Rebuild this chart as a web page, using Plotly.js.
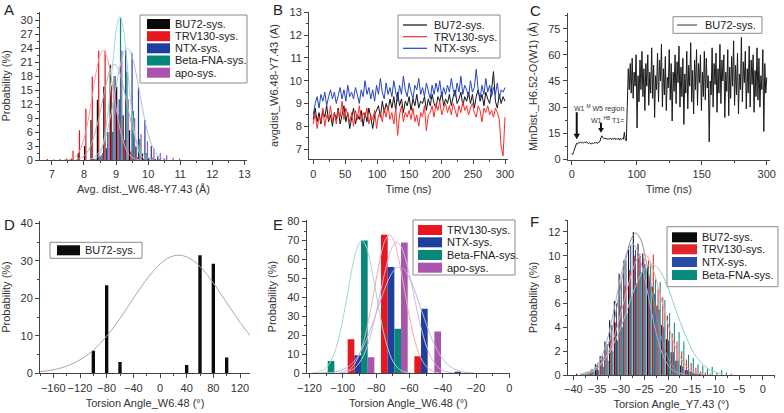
<!DOCTYPE html>
<html><head><meta charset="utf-8">
<script src="https://cdn.plot.ly/plotly-3.0.1.min.js"></script>
<style>html,body{margin:0;padding:0;background:#fff}#chart{width:784px;height:413px}</style>
</head><body><div id="chart"></div>
<script>
// ---------- Panel A : Avg. dist. W6.48-Y7.43 histogram ----------
const aSeries = ['BU72-sys.','TRV130-sys.','NTX-sys.','Beta-FNA-sys.','apo-sys.'];
const aBins = [6.9,7.1,7.3,7.5,7.7,7.9,8.1,8.3,8.5,8.7,8.9,9.1,9.3,9.5,9.7,9.9,10.1,10.3,10.5,10.7,10.9];
const aBU72 = [0,0,0,0.1,0.3,1.5,3.0,8.6,12.9,15.7,20.4,15.7,9.6,6.4,2.9,1.4,0.5,0.2,0,0,0];
const aTRV130 = [0.2,0.1,0.2,0.3,2.0,6.4,11.0,17.9,23.4,23.4,16.0,9.6,4.3,1.8,0.6,0.2,0,0,0,0,0];
const aNTX = [0,0,0,0,0,0,0,0.2,0.8,2.5,6.0,13.0,23.6,22.9,15.7,8.6,3.0,0.8,0.2,0,0];
const aBFNA = [0,0,0,0,0,0,0,0.2,1.0,6.0,18.0,30.5,19.0,10.5,4.5,1.5,0.5,0.2,0,0,0];
const aApo = [0,0,0,0,0,0,0,0.3,1.5,6.0,18.0,23.5,13.0,9.0,5.5,4.0,2.5,1.5,1.0,0.5,0.3];
const aFitBU72X = [7.75,7.85,7.95,8.05,8.15,8.25,8.35,8.45,8.55,8.65,8.75,8.85,8.95,9.05,9.15,9.25,9.35,9.45,9.55,9.65,9.75,9.85,9.95,10.05,10.15];
const aFitBU72Y = [0.1,0.3,0.6,1.2,2.2,3.8,5.9,8.6,11.8,15.0,17.9,19.8,20.5,19.8,17.9,15.0,11.8,8.6,5.9,3.8,2.2,1.2,0.6,0.3,0.1];
const aFitTRVX = [7.4,7.5,7.6,7.7,7.8,7.9,8.0,8.1,8.2,8.3,8.4,8.5,8.6,8.7,8.8,8.9,9.0,9.1,9.2,9.3,9.4,9.5,9.6,9.7,9.8];
const aFitTRVY = [0.03,0.09,0.24,0.57,1.24,2.48,4.5,7.46,11.3,15.5,19.6,22.4,23.5,22.4,19.6,15.5,11.3,7.46,4.5,2.48,1.24,0.57,0.24,0.09,0.03];
const aFitNTXX = [8.15,8.25,8.35,8.45,8.55,8.65,8.75,8.85,8.95,9.05,9.15,9.25,9.35,9.45,9.55,9.65,9.75,9.85,9.95,10.05,10.15,10.25,10.35,10.45,10.55];
const aFitNTXY = [0.16,0.36,0.75,1.5,2.6,4.4,6.9,10.1,13.8,17.6,20.9,23.2,24.0,23.2,20.9,17.6,13.8,10.1,6.9,4.4,2.6,1.5,0.75,0.36,0.16];
const aFitBFNAX = [8.32,8.42,8.52,8.62,8.72,8.82,8.92,9.02,9.12,9.22,9.32,9.42,9.52,9.62,9.72,9.82,9.92];
const aFitBFNAY = [0.2,0.6,1.7,4.2,8.6,15.0,22.4,28.4,30.8,28.4,22.4,15.0,8.6,4.2,1.7,0.6,0.2];

// ---------- Panel B : time series ----------
const bSeries = ['BU72-sys.','TRV130-sys.','NTX-sys.'];
const bTime = [0,3,6,9,12,15,18,21,24,27,30,33,36,39,42,45,48,51,54,57,60,63,66,69,72,75,78,81,84,87,90,93,96,99,102,105,108,111,114,117,120,123,126,129,132,135,138,141,144,147,150,153,156,159,162,165,168,171,174,177,180,183,186,189,192,195,198,201,204,207,210,213,216,219,222,225,228,231,234,237,240,243,246,249,252,255,258,261,264,267,270,273,276,279,282,285,288,291,294,297,300];
const bBU72 = [8.3,8.8,8.2,8.6,8.1,8.7,8.4,8.9,8.2,8.5,8.0,
 8.6,8.3,8.8,8.1,8.5,8.9,8.2,8.6,7.9,8.4,
 8.8,8.1,8.5,8.3,8.7,8.0,8.6,8.2,8.8,8.4,
 7.9,8.5,8.7,8.9,8.4,9.1,8.6,9.0,8.7,9.2,
 8.8,9.3,8.7,9.5,8.9,9.2,8.6,9.1,8.9,9.3,
 8.7,9.2,8.9,9.4,8.8,9.1,9.0,9.3,8.7,9.2,
 8.9,9.4,9.0,8.8,9.3,9.1,9.5,8.9,9.2,9.0,
 9.4,8.9,9.3,9.6,9.0,9.2,9.5,8.9,9.3,9.1,
 9.5,9.0,9.4,8.8,9.3,9.6,9.1,9.4,8.9,9.5,
 9.2,9.0,9.6,10.4,9.1,8.8,9.4,9.0,9.3,9.1];
const bTRV130 = [8.1,8.6,7.9,8.4,8.2,8.8,8.0,8.5,8.3,8.9,8.2,
 8.6,8.1,8.7,8.4,9.1,8.3,8.8,8.5,8.2,8.6,
 8.0,8.7,8.3,8.9,8.2,8.6,8.4,8.8,8.1,8.5,
 8.3,8.7,7.9,8.5,8.6,8.2,8.8,8.4,8.9,8.3,
 8.6,8.1,8.8,7.6,8.5,8.9,8.2,8.6,8.4,8.7,
 8.3,8.8,8.2,8.5,8.0,8.6,8.4,8.9,7.8,8.5,
 8.6,8.9,8.4,9.0,8.7,9.1,8.5,8.8,9.0,8.6,
 8.9,8.5,9.0,8.7,8.4,8.9,8.6,9.1,8.7,8.9,
 8.5,8.8,9.0,8.6,8.4,8.9,8.7,8.2,8.8,8.6,
 8.9,8.5,8.7,8.4,8.8,8.6,8.3,7.1,6.7,8.4];
const bNTX = [8.5,9.0,9.3,8.8,9.4,9.1,9.5,8.9,9.3,9.6,9.2,
 9.5,9.0,9.4,9.7,9.2,9.6,9.1,9.8,9.3,9.5,
 9.2,9.7,9.4,9.0,9.6,9.3,10.0,9.4,9.7,9.2,
 9.6,9.1,9.8,9.4,10.1,9.5,9.2,9.9,9.4,9.7,
 9.3,10.0,9.5,9.1,9.8,9.4,10.2,9.6,9.3,9.9,
 9.5,9.2,9.8,9.6,10.1,9.4,9.7,9.3,9.9,9.5,
 9.2,9.8,9.4,9.9,9.5,10.0,9.3,9.7,9.4,9.8,
 9.5,10.1,9.6,9.3,9.9,9.5,10.2,9.4,9.8,9.6,
 9.3,10.0,9.5,9.7,10.5,9.6,9.2,9.8,9.4,10.1,
 9.5,9.8,9.3,9.7,9.4,9.9,9.2,9.6,9.5,9.7];

// ---------- Panel C : MinDist H6.52-O(W1) ----------
const cSeries = ['BU72-sys.'];
const cTickText = ['0','100','150','300'];
const cTime = [0,1.5,3,4.5,6,7.5,9,10.5,12,13.5,15,16.5,18,19.5,21,22.5,24,25.5,27,28.5,30,31.5,33,34.5,36,37.5,39,40.5,42,43.5,45,46.5,48,49.5,51,52.5,54,55.5,57,58.5,60,61.5,63,64.5,66,67.5,69,70.5,72,73.5,75,76.5,78,79.5,81,82.5,84,
 85.5,87,88.5,90,91.5,93,94.5,96,97.5,99,100.5,102,103.5,105,106.5,108,109.5,111,112.5,114,115.5,117,118.5,120,121.5,123,124.5,126,127.5,129,130.5,132,133.5,135,136.5,138,139.5,141,142.5,144,145.5,147,148.5,150,151.5,153,154.5,156,157.5,159,160.5,162,163.5,165,166.5,168,169.5,171,172.5,174,175.5,177,178.5,180,181.5,183,184.5,186,187.5,189,190.5,192,193.5,195,196.5,198,199.5,201,202.5,204,205.5,207,208.5,210,211.5,213,214.5,216,217.5,219,220.5,222,223.5,225,226.5,228,229.5,231,232.5,234,235.5,237,238.5,240,241.5,243,244.5,246,247.5,249,250.5,252,253.5,255,256.5,258,259.5,261,262.5,264,265.5,267,268.5,270,271.5,273,274.5,276,277.5,279,280.5,282,283.5,285,286.5,288,289.5,291,292.5,294,295.5,297,298.5,300];
const cBU72 = [3.5,2.8,4.5,6.5,8.5,9.2,8.8,9.6,9.4,10.0,9.5,9.8,9.3,9.9,9.5,10.1,9.4,9.0,9.6,9.2,8.8,9.3,9.0,9.6,9.2,9.8,9.1,9.5,9.9,10.3,12.5,13.5,12.4,11.8,12.3,11.6,12.1,11.4,12.0,11.5,12.2,11.3,11.9,11.6,12.3,11.2,11.8,11.5,12.2,11.0,11.9,11.4,12.1,11.6,15.5,11.2,10.5,
 30,52,40,55,38,58,35,50,42,60,
 18,48,33,57,40,62,36,52,28,55,
 42,60,31,50,38,64,35,54,24,48,
 40,61,33,57,45,66,30,52,37,59,
 28,47,41,63,34,55,22,50,39,60,
 32,56,44,65,30,53,36,58,20,49,
 38,62,29,54,42,67,33,51,26,57,
 40,63,31,55,44,60,28,50,36,62,
 34,58,41,48,10,45,37,64,30,55,
 43,61,27,52,38,66,32,57,45,60,
 24,50,39,63,25,53,35,59,42,68,
 31,54,37,61,26,49,40,70,33,56,
 44,62,29,52,38,65,30,57,43,60,
 27,51,36,64,34,58,30,48,40,63,
 16,55,38,47];

// ---------- Panel D : torsion W6.48, BU72 ----------
const dSeries = ['BU72-sys.'];
const dAngle = [-100,-80,-60,40,60,80,100];
const dBU72 = [6,23.5,3,2.2,31.5,29.2,4.2];
const dFitX = [-180,-165,-150,-135,-120,-105,-90,-75,-60,-45,-30,-15,0,15,30,45,60,75,90,105,120,135];
const dFitY = [0.43,0.78,1.36,2.26,3.59,5.45,7.92,11.0,14.6,18.6,22.6,26.2,29.1,31.0,31.5,30.6,28.5,25.3,21.5,17.5,13.6,10.1];

// ---------- Panel E : torsion W6.48, others ----------
const eSeries = ['TRV130-sys.','NTX-sys.','Beta-FNA-sys.','apo-sys.'];
const eBins = [-109,-89,-69,-49,-29];
const eTRV130 = [0,18,73,9,0];
const eNTX = [0.3,9.5,56,34,0.8];
const eBFNA = [6.5,70,23.5,0,0];
const eApo = [0,8.5,69,22,0];
const eFitTRVX = [-102,-99.5,-97,-94.5,-92,-89.5,-87,-84.5,-82,-79.5,-77,-74.5,-72,-69.5,-67,-64.5,-62,-59.5,-57,-54.5,-52,-49.5,-47,-44.5,-42];
const eFitTRVY = [0.3,0.7,1.5,3.2,6.2,11.0,18.2,27.8,39.4,51.6,62.6,70.2,73,70.2,62.6,51.6,39.4,27.8,18.2,11.0,6.2,3.2,1.5,0.7,0.3];
const eFitNTXX = [-111,-108.5,-106,-103.5,-101,-98.5,-96,-93.5,-91,-88.5,-86,-83.5,-81,-78.5,-76,-73.5,-71,-68.5,-66,-63.5,-61,-58.5,-56,-53.5,-51,-48.5,-46,-43.5,-41,-38.5,-36,-33.5,-31,-28.5,-26,-23.5,-21];
const eFitNTXY = [0.14,0.27,0.49,0.87,1.5,2.5,3.9,6.0,8.8,12.5,17.2,22.6,28.8,35.3,41.6,47.4,52.0,55.0,56,55.0,52.0,47.4,41.6,35.3,28.8,22.6,17.2,12.5,8.8,6.0,3.9,2.5,1.5,0.87,0.49,0.27,0.14];
const eFitBFNAX = [-118.5,-116,-113.5,-111,-108.5,-106,-103.5,-101,-98.5,-96,-93.5,-91,-88.5,-86,-83.5,-81,-78.5,-76,-73.5,-71,-68.5,-66,-63.5,-61,-58.5];
const eFitBFNAY = [0.14,0.37,0.92,2.1,4.4,8.4,14.8,23.7,35.1,47.4,58.9,67.0,70,67.0,58.9,47.4,35.1,23.7,14.8,8.4,4.4,2.1,0.92,0.37,0.14];
const eFitApoX = [-102.5,-100,-97.5,-95,-92.5,-90,-87.5,-85,-82.5,-80,-77.5,-75,-72.5,-70,-67.5,-65,-62.5,-60,-57.5,-55,-52.5,-50,-47.5,-45,-42.5,-40,-37.5,-35,-32.5];
const eFitApoY = [0.15,0.35,0.8,1.6,3.0,5.5,9.3,14.9,22.4,31.6,41.9,52.1,60.9,66.9,69,66.9,60.9,52.1,41.9,31.6,22.4,14.9,9.3,5.5,3.0,1.6,0.8,0.35,0.15];

// ---------- Panel F : torsion Y7.43 ----------
const fSeries = ['BU72-sys.','TRV130-sys.','NTX-sys.','Beta-FNA-sys.'];
const fBins = [-40,-39,-38,-37,-36,-35,-34,-33,-32,-31,-30,-29,-28,-27,-26,-25,-24,-23,-22,-21,-20,-19,-18,-17,-16,-15,-14,-13,-12,-11,-10,-9,-8,-7,-6,-5];
const fBU72 = [0,0.1,0.1,0.2,0.4,0.9,1.6,2.8,4.6,6.2,8.5,9.6,10.8,12.0,11.0,10.2,9.0,7.4,5.8,4.2,3.0,1.9,1.2,0.8,0.4,0.3,0.1,0.1,0,0,0,0,0,0,0,0];
const fTRV130 = [0,0,0.1,0.2,0.5,0.8,1.3,2.0,3.0,4.4,5.8,7.5,8.8,10.0,10.2,9.8,9.6,10.1,7.2,6.5,5.0,3.5,2.8,2.0,1.3,1.0,0.6,0.3,0.2,0.1,0,0,0,0,0,0];
const fNTX = [0,0,0.1,0.3,0.5,1.0,1.6,2.6,4.2,6.0,7.8,9.6,10.9,10.5,10.0,9.3,8.2,6.8,5.5,4.0,2.9,1.9,1.2,0.7,0.4,0.2,0.1,0,0,0,0,0,0,0,0,0];
const fBFNA = [0,0,0,0.1,0.3,0.4,0.7,1.2,2.0,2.9,4.0,5.2,6.6,7.7,8.6,9.0,9.2,8.0,7.8,6.3,5.2,4.4,3.6,2.8,1.7,1.4,0.9,0.8,0.5,0.7,0.2,0.4,0.2,0.1,0,0];
const fFitBU72X = [-37.8,-36.8,-35.8,-34.8,-33.8,-32.8,-31.8,-30.8,-29.8,-28.8,-27.8,-26.8,-25.8,-24.8,-23.8,-22.8,-21.8,-20.8,-19.8,-18.8,-17.8,-16.8,-15.8];
const fFitBU72Y = [0.05,0.12,0.29,0.63,1.25,2.3,3.8,5.7,7.9,9.9,11.4,11.9,11.4,9.9,7.9,5.7,3.8,2.3,1.25,0.63,0.29,0.12,0.05];
const fFitNTXX = [-38.5,-37.5,-36.5,-35.5,-34.5,-33.5,-32.5,-31.5,-30.5,-29.5,-28.5,-27.5,-26.5,-25.5,-24.5,-23.5,-22.5,-21.5,-20.5,-19.5,-18.5,-17.5,-16.5];
const fFitNTXY = [0.04,0.11,0.27,0.58,1.15,2.1,3.5,5.3,7.3,9.1,10.5,11.0,10.5,9.1,7.3,5.3,3.5,2.1,1.15,0.58,0.27,0.11,0.04];
const fFitTRVX = [-38.3,-37.3,-36.3,-35.3,-34.3,-33.3,-32.3,-31.3,-30.3,-29.3,-28.3,-27.3,-26.3,-25.3,-24.3,-23.3,-22.3,-21.3,-20.3,-19.3,-18.3,-17.3,-16.3,-15.3,-14.3,-13.3,-12.3];
const fFitTRVY = [0.05,0.11,0.23,0.45,0.8,1.4,2.2,3.3,4.7,6.2,7.7,9.0,9.9,10.2,9.9,9.0,7.7,6.2,4.7,3.3,2.2,1.4,0.8,0.45,0.23,0.11,0.05];
const fFitBFNAX = [-38.5,-37.5,-36.5,-35.5,-34.5,-33.5,-32.5,-31.5,-30.5,-29.5,-28.5,-27.5,-26.5,-25.5,-24.5,-23.5,-22.5,-21.5,-20.5,-19.5,-18.5,-17.5,-16.5,-15.5,-14.5,-13.5,-12.5,-11.5,-10.5,-9.5,-8.5];
const fFitBFNAY = [0.10,0.18,0.32,0.52,0.83,1.3,1.8,2.6,3.5,4.5,5.6,6.8,7.8,8.6,9.1,9.3,9.1,8.6,7.8,6.8,5.6,4.5,3.5,2.6,1.8,1.3,0.83,0.52,0.32,0.18,0.10];

// ---------- styling ----------
const FONT = 'Liberation Sans, Arial, sans-serif';
const COL = {black:'#0a0a0a', red:'#e8161e', blue:'#1e3f9e', teal:'#06877a', purple:'#a955ae'};
const W = 784, H = 413;
const px = x => x / W, py = y => 1 - y / H;

const traces = [];
function bars(x, y, name, color, xa, ya, width, offset) {
  traces.push({type:'bar', x:x, y:y, name:name, xaxis:xa, yaxis:ya, width:width, offset:offset,
    marker:{color:color, line:{width:0}}, showlegend:false, hoverinfo:'x+y+name'});
}
function line(x, y, name, color, xa, ya, w, shape, op) {
  traces.push({type:'scatter', mode:'lines', x:x, y:y, name:name, xaxis:xa, yaxis:ya,
    line:{color:color, width:w, shape:shape||'linear'}, opacity:op||1, showlegend:false});
}

// A
const aW = 0.04, aCols = [COL.black, COL.red, COL.blue, COL.teal, COL.purple];
[aBU72, aTRV130, aNTX, aBFNA, aApo].forEach((s, i) => bars(aBins, s, aSeries[i], aCols[i], 'x', 'y', aW*0.95, -0.1 + i*aW));
line(aFitTRVX, aFitTRVY, 'TRV130 fit', '#f4a0a0', 'x', 'y', 1, 'spline');
line(aFitBU72X, aFitBU72Y, 'BU72 fit', '#b0b0b0', 'x', 'y', 1, 'spline');
line(aFitNTXX, aFitNTXY, 'NTX fit', '#b0bce6', 'x', 'y', 1, 'spline');
line(aFitBFNAX, aFitBFNAY, 'Beta-FNA fit', '#9dd8d0', 'x', 'y', 1, 'spline');
// B
const bCols = ['#111111', '#ff2a2a', '#2443c4'];
[bBU72, bTRV130, bNTX].forEach((s, i) => line(bTime, s, bSeries[i], bCols[i], 'x2', 'y2', 1));
// C
line(cTime, cBU72, cSeries[0], '#1a1a1a', 'x3', 'y3', 1);
// D
bars(dAngle, dBU72, dSeries[0], COL.black, 'x4', 'y4', 5, -2.5);
line(dFitX, dFitY, 'BU72 fit', '#a8a8a8', 'x4', 'y4', 1, 'spline');
// E
const eCols = [COL.red, COL.blue, COL.teal, COL.purple];
[eTRV130, eNTX, eBFNA, eApo].forEach((s, i) => bars(eBins, s, eSeries[i], eCols[i], 'x5', 'y5', 4, -8 + i*4));
line(eFitBFNAX, eFitBFNAY, 'Beta-FNA fit', '#9dd8d0', 'x5', 'y5', 1, 'spline');
line(eFitTRVX, eFitTRVY, 'TRV130 fit', '#f4a8a8', 'x5', 'y5', 1, 'spline');
line(eFitApoX, eFitApoY, 'apo fit', '#dcb2de', 'x5', 'y5', 1, 'spline');
line(eFitNTXX, eFitNTXY, 'NTX fit', '#b0bce6', 'x5', 'y5', 1, 'spline');
// F
const fCols = [COL.black, '#e0262a', '#2a4aa8', '#0c8a7e'];
[fBU72, fTRV130, fNTX, fBFNA].forEach((s, i) => bars(fBins, s, fSeries[i], fCols[i], 'x6', 'y6', 0.22, -0.45 + i*0.225));
line(fFitBU72X, fFitBU72Y, 'BU72 fit', '#8f8f8f', 'x6', 'y6', 1, 'spline');
line(fFitTRVX, fFitTRVY, 'TRV130 fit', '#eea0a0', 'x6', 'y6', 1, 'spline');
line(fFitNTXX, fFitNTXY, 'NTX fit', '#a0aede', 'x6', 'y6', 1, 'spline');
line(fFitBFNAX, fFitBFNAY, 'Beta-FNA fit', '#8ccfc6', 'x6', 'y6', 1, 'spline');

function axis(domain, range, anchor, dtick, minorDtick, title, standoff, extra) {
  return Object.assign({
    domain: domain, range: range, anchor: anchor, dtick: dtick, tick0: 0, tickangle: 0,
    showline: true, linecolor: '#444', linewidth: 1, ticks: 'outside', ticklen: 4, tickwidth: 1, tickcolor: '#444',
    showgrid: false, zeroline: false, mirror: false, automargin: false, fixedrange: true,
    tickfont: {family: FONT, size: 11, color: '#333'},
    minor: {dtick: minorDtick, ticks: 'outside', ticklen: 2, tickcolor: '#444', showgrid: false},
    title: {text: title, font: {family: FONT, size: 11, color: '#333'}, standoff: standoff}
  }, extra || {});
}
const dx = (l, r) => [px(l), px(r)], dy = (t, b) => [py(b), py(t)];

const layout = {
  width: W, height: H, margin: {l: 0, r: 0, t: 0, b: 0},
  paper_bgcolor: '#fff', plot_bgcolor: 'rgba(0,0,0,0)', showlegend: false,
  font: {family: FONT, color: '#333'},
  xaxis:  axis(dx(40, 247), [6.63, 13.08], 'y', 1, 0.5, 'Avg. dist._W6.48-Y7.43 (Å)', 6),
  yaxis:  axis(dy(11.7, 160), [0, 31.8], 'x', 3, 1.5, 'Probability (%)', 8),
  xaxis2: axis(dx(309, 508), [-6.7, 304.7], 'y2', 50, 25, 'Time (ns)', 6),
  yaxis2: axis(dy(11.7, 159.3), [6.55, 13.03], 'x2', 1, 0.5, 'avgdist_W6.48-Y7.43 (A)', 8),
  xaxis3: axis(dx(567.7, 770), [-6.2, 305], 'y3', null, 50, 'Time (ns)', 6,
          {tickmode: 'array', tickvals: [0, 100, 200, 300], ticktext: cTickText}),
  yaxis3: axis(dy(13, 160), [-0.4, 84], 'x3', 15, 7.5, 'MinDist._H6.52-O(W1) (Å)', 8),
  xaxis4: axis(dx(40, 250), [-180, 135], 'y4', 40, 20, 'Torsion Angle_W6.48 (°)', 6),
  yaxis4: axis(dy(220.7, 373.3), [0, 40.7], 'x4', 10, 5, 'Probability (%)', 8),
  xaxis5: axis(dx(306.7, 510), [-121.6, 0.4], 'y5', 20, 10, 'Torsion Angle_W6.48 (°)', 6),
  yaxis5: axis(dy(220, 373.3), [0, 80.8], 'x5', 10, 5, 'Probability (%)', 8),
  xaxis6: axis(dx(567.7, 775), [-41.2, 2.6], 'y6', 5, 2.5, 'Torsion Angle_Y7.43 (°)', 6),
  yaxis6: axis(dy(220, 375), [0, 13], 'x6', 2, 1, 'Probability (%)', 8),
  shapes: [], annotations: []
};

// panel letters
[['A', 9, 9], ['B', 278, 9], ['C', 535, 10], ['D', 9, 224], ['E', 278, 224], ['F', 534, 221]].forEach(p => {
  layout.annotations.push({text: p[0], xref: 'paper', yref: 'paper', x: px(p[1]), y: py(p[2]),
    xanchor: 'center', yanchor: 'middle', showarrow: false, font: {family: FONT, size: 15, color: '#222'}});
});

// legends drawn as boxes
function legend(box, names, colors, kind, sw, rows, textX) {
  layout.shapes.push({type: 'rect', xref: 'paper', yref: 'paper', x0: px(box[0]), x1: px(box[2]), y0: py(box[3]), y1: py(box[1]),
    line: {color: '#8a8a8a', width: 1}, fillcolor: '#fff', layer: 'above'});
  names.forEach((n, i) => {
    const yc = rows[i];
    if (kind === 'bar') {
      layout.shapes.push({type: 'rect', xref: 'paper', yref: 'paper', x0: px(sw[0]), x1: px(sw[1]), y0: py(yc + 5), y1: py(yc - 5),
        line: {width: 0}, fillcolor: colors[i], layer: 'above'});
    } else {
      layout.shapes.push({type: 'line', xref: 'paper', yref: 'paper', x0: px(sw[0]), x1: px(sw[1]), y0: py(yc), y1: py(yc),
        line: {color: colors[i], width: 1.2}, layer: 'above'});
    }
    layout.annotations.push({text: n, xref: 'paper', yref: 'paper', x: px(textX), y: py(yc), xanchor: 'left', yanchor: 'middle',
      showarrow: false, font: {family: FONT, size: 11, color: '#222'}});
  });
}
legend([140, 15, 247, 83], aSeries, aCols, 'bar', [147, 170], [24, 36.2, 48.3, 60.5, 72.7], 173);
legend([398, 15, 500, 58], bSeries, bCols, 'line', [403, 427], [25, 36.7, 48.3], 432);
legend([673, 16.7, 762, 33.3], cSeries, ['#555'], 'line', [677, 697], [25], 703);
legend([50, 242.3, 142, 258.3], dSeries, [COL.black], 'bar', [57, 80], [250.3], 83);
legend([413, 220, 515, 275], eSeries, eCols, 'bar', [418, 442], [230, 242.3, 255, 267.7], 445);
legend([667, 226.7, 778, 286.7], fSeries, fCols, 'bar', [672, 697], [237.3, 249.3, 262, 275], 700);

// panel C arrows (drawn as shapes) and labels
function arrow(x, yTop, yTip, halfW, headH) {
  layout.shapes.push({type: 'line', xref: 'x3', yref: 'y3', x0: x, x1: x, y0: yTop, y1: yTip + headH * 0.6,
    line: {color: '#111', width: 2}});
  layout.shapes.push({type: 'path', xref: 'x3', yref: 'y3',
    path: 'M ' + (x - halfW) + ',' + (yTip + headH) + ' L ' + (x + halfW) + ',' + (yTip + headH) + ' L ' + x + ',' + yTip + ' Z',
    fillcolor: '#111', line: {width: 0}});
}
arrow(7.7, 27, 11.5, 5, 3.2);
arrow(45, 21, 15.2, 4.5, 2.8);
layout.annotations.push({xref: 'x3', yref: 'y3', x: 0, y: 29, xanchor: 'left', yanchor: 'middle', showarrow: false,
  text: 'W1 <sup>M</sup> W5 region', font: {family: FONT, size: 7, color: '#333'}});
layout.annotations.push({xref: 'x3', yref: 'y3', x: 27, y: 22.5, xanchor: 'left', yanchor: 'middle', showarrow: false,
  text: 'W1 <sup>HB</sup> T1=', font: {family: FONT, size: 7, color: '#333'}});

Plotly.newPlot('chart', traces, layout, {staticPlot: true, displayModeBar: false});
</script></body></html>
